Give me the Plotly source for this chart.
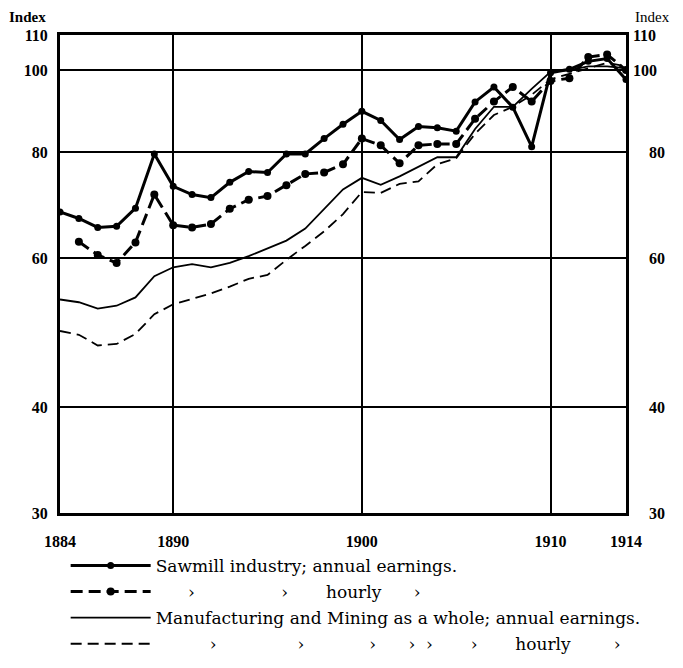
import plotly.graph_objects as go

# Years 1884-1914
years = [1884, 1885, 1886, 1887, 1888, 1889, 1890, 1891, 1892, 1893,
         1894, 1895, 1896, 1897, 1898, 1899, 1900, 1901, 1902, 1903,
         1904, 1905, 1906, 1907, 1908, 1909, 1910, 1911, 1912, 1913, 1914]

# Sawmill industry; annual earnings (index)
sawmill_annual = [68.0, 66.8, 65.2, 65.4, 68.7, 79.6, 72.9, 71.3, 70.7, 73.7,
                  75.9, 75.7, 79.6, 79.6, 83.0, 86.3, 89.4, 87.2, 82.8, 85.8,
                  85.5, 84.7, 91.7, 95.5, 90.4, 81.2, 99.3, 100.2, 102.4, 103.2, 97.5]

# Sawmill industry; hourly earnings (from 1885)
hourly_years = years[1:]
sawmill_hourly = [62.7, 60.5, 59.2, 62.6, 71.3, 65.6, 65.2, 65.8, 68.6,
                  70.3, 71.0, 73.1, 75.4, 75.7, 77.4, 83.0, 81.5, 77.6, 81.5,
                  81.8, 81.8, 87.6, 91.8, 95.5, 91.8, 97.1, 97.8, 103.6, 104.3, 100.0]

# Manufacturing and Mining as a whole; annual earnings
manuf_annual = [53.6, 53.2, 52.3, 52.7, 53.9, 57.1, 58.5, 59.0, 58.5, 59.2,
                60.3, 61.6, 62.9, 65.0, 68.5, 72.3, 74.6, 73.2, 74.9, 76.8,
                78.9, 78.9, 85.2, 90.5, 90.5, 95.0, 99.5, 100.0, 101.0, 101.0, 100.5]

# Manufacturing and Mining as a whole; hourly earnings
manuf_hourly = [49.2, 48.7, 47.3, 47.5, 48.8, 51.5, 52.9, 53.7, 54.5, 55.5,
                56.7, 57.3, 59.7, 62.0, 64.5, 67.6, 71.8, 71.6, 73.4, 73.9,
                77.4, 78.7, 84.1, 88.5, 90.5, 93.5, 97.5, 99.0, 100.5, 102.0, 101.0]

x_ticks = [1884, 1890, 1900, 1910, 1914]
y_ticks = [30, 40, 60, 80, 100, 110]
y_left_text = ['30', '40', '60', '80', '100', '110']
y_right_text = ['\u2007\u200730', '\u2007\u200740', '\u2007\u200760', '\u2007\u200780', '100', '110']

NB = '\u00a0'
D = '\u203a'  # ditto mark
legend_names = [
    'Sawmill industry; annual earnings.',
    NB * 6 + D + NB * 16 + D + NB * 7 + 'hourly' + NB * 6 + D,
    'Manufacturing and Mining as a whole; annual earnings.',
    NB * 10 + D + NB * 15 + D + NB * 12 + D + NB * 6 + D + NB * 2
    + D + NB * 7 + D + NB * 7 + 'hourly' + NB * 8 + D,
]

SERIF = 'Liberation Serif'
LEGEND_FONT = 'DejaVu Serif'

fig = go.Figure()

fig.add_trace(go.Scatter(
    x=years, y=sawmill_annual, mode='lines+markers', name=legend_names[0],
    line=dict(color='black', width=3),
    marker=dict(color='black', size=7),
    legendgroup='a'
))
fig.add_trace(go.Scatter(
    x=hourly_years, y=sawmill_hourly, mode='lines+markers', name=legend_names[1],
    line=dict(color='black', width=3, dash='12px,6px'),
    marker=dict(color='black', size=8),
    legendgroup='b'
))
fig.add_trace(go.Scatter(
    x=years, y=manuf_annual, mode='lines', name=legend_names[2],
    line=dict(color='black', width=1.8),
    legendgroup='c'
))
fig.add_trace(go.Scatter(
    x=years, y=manuf_hourly, mode='lines', name=legend_names[3],
    line=dict(color='black', width=1.8, dash='11px,6px'),
    legendgroup='d'
))
# invisible trace to carry the right-hand axis
fig.add_trace(go.Scatter(
    x=[years[0]], y=[manuf_annual[0]], yaxis='y2', mode='markers',
    marker=dict(opacity=0), showlegend=False, hoverinfo='skip'
))

axis_font = dict(family=SERIF, size=16, color='black', weight='bold')

# page body has an 8px margin, so the figure is 8px smaller than the window
fig.update_layout(
    width=675, height=660,
    margin=dict(l=52, r=57, t=27, b=155, autoexpand=False),
    paper_bgcolor='white', plot_bgcolor='white',
    xaxis=dict(
        range=[1884, 1914], tickvals=x_ticks, ticktext=[str(v) for v in x_ticks],
        showgrid=True, gridcolor='black', gridwidth=2,
        showline=True, linecolor='black', linewidth=3, mirror=True,
        ticks='', tickfont=axis_font, zeroline=False, ticklabelstandoff=12,
        automargin=False,
    ),
    yaxis=dict(
        type='log', range=[1.4771, 2.0414],
        tickvals=y_ticks, ticktext=y_left_text,
        showgrid=True, gridcolor='black', gridwidth=2,
        showline=True, linecolor='black', linewidth=3, mirror=True,
        ticks='', tickfont=axis_font, zeroline=False, ticklabelstandoff=6,
        automargin=False,
    ),
    yaxis2=dict(
        type='log', range=[1.4771, 2.0414], overlaying='y', side='right',
        tickvals=y_ticks, ticktext=y_right_text,
        showgrid=False, ticks='', tickfont=axis_font, zeroline=False,
        ticklabelstandoff=6, automargin=False,
    ),
    showlegend=True,
    legend=dict(
        x=0.01, y=-0.073, xanchor='left', yanchor='top',
        font=dict(family=LEGEND_FONT, size=17, color='black'),
        itemwidth=80, tracegroupgap=1, bgcolor='rgba(0,0,0,0)',
    ),
    annotations=[
        dict(text='Index', xref='paper', yref='paper', x=-0.057, y=1.038,
             xanchor='center', yanchor='middle', showarrow=False,
             font=dict(family=SERIF, size=15, color='black', weight='bold')),
        dict(text='Index', xref='paper', yref='paper', x=1.047, y=1.038,
             xanchor='center', yanchor='middle', showarrow=False,
             font=dict(family=SERIF, size=15, color='black')),
    ],
)

fig.write_html('out.html')
